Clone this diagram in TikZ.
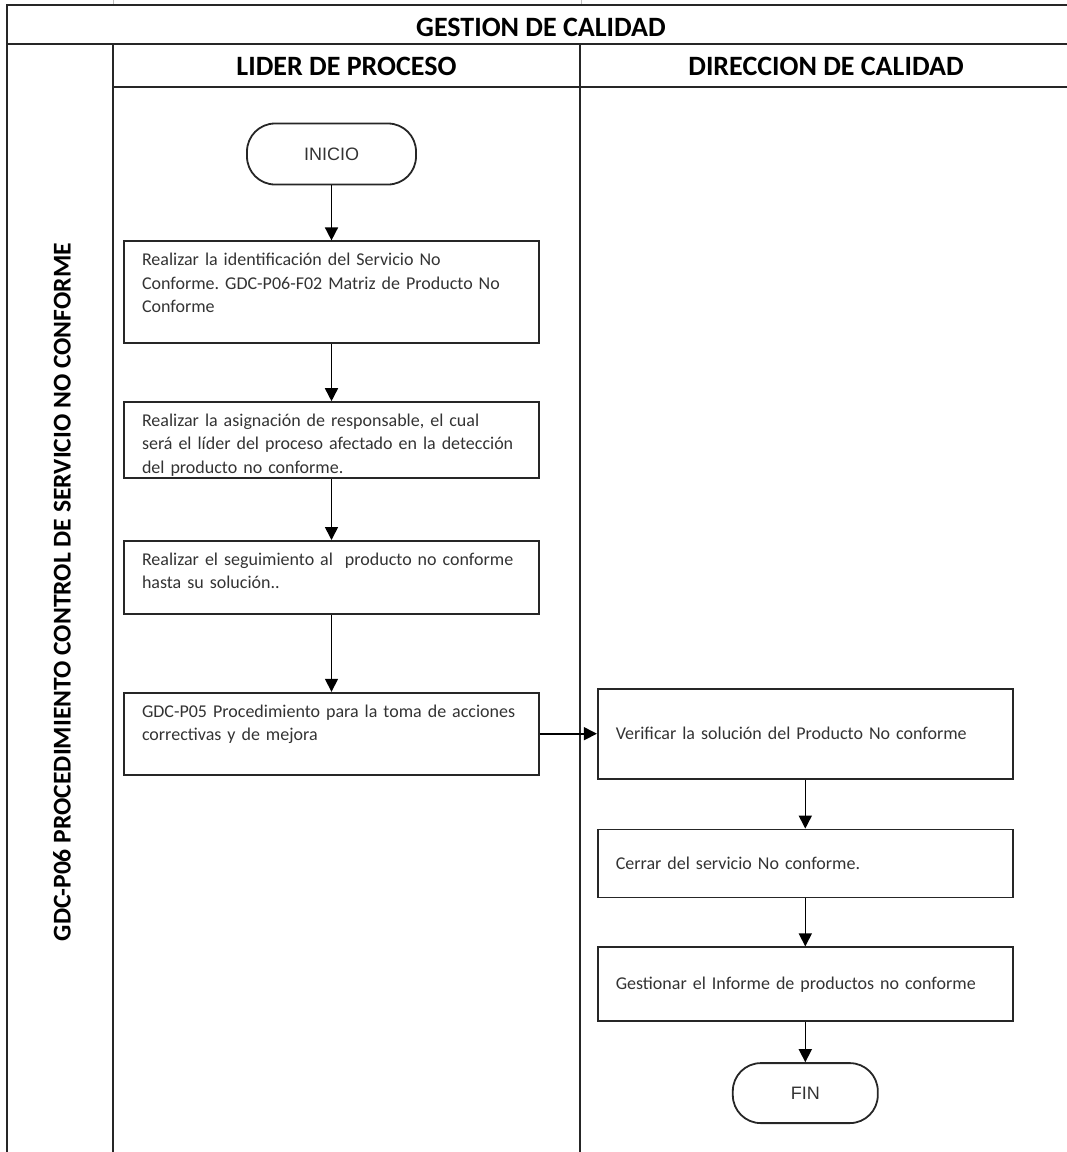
\documentclass[tikz,border=0pt]{standalone}
\usepackage{fontspec}
\setmainfont{Carlito}
\newfontfamily\termfont{Liberation Sans}
\usetikzlibrary{arrows.meta}
\usetikzlibrary{positioning}

\newcommand{\toptext}[2]{\parbox[c][#1][t]{\linewidth}{\frenchspacing #2}}

\begin{document}
\begin{tikzpicture}[x=1pt, y=1pt, node distance=55pt,
                    frame/.style = {draw=black!85, line width=2pt},
                    lane title/.style = {font=\fontsize{28}{32}\selectfont\bfseries},
                    stepbox/.style = {rectangle, draw=black!85, line width=1.8pt,
                                      minimum width=415pt, text width=379pt,
                                      inner xsep=18pt, inner ysep=12pt, align=left,
                                      text=black!80, font=\fontsize{18}{23.3}\selectfont},
                    terminal/.style = {rectangle, rounded corners=28pt, draw=black!85,
                                       line width=1.8pt, text=black!80,
                                       font=\termfont\fontsize{18}{22}\selectfont},
                    flow/.style = {-{Triangle[width=13pt,length=13pt]}, line width=1.6pt}]
  \useasboundingbox (0,0) rectangle (1067,-1152);

  % table frame
  \draw [black!25, line width=1pt] (113,0) -- (113,-5);
  \draw [black!25, line width=1pt] (581,0) -- (581,-5);
  \draw [frame] (7,-1152) -- (7,-5) -- (1067,-5);
  \draw [frame] (7,-44) -- (1067,-44);
  \draw [frame] (113,-87) -- (1067,-87);
  \draw [frame] (113,-44) -- (113,-1152);
  \draw [frame] (580,-44) -- (580,-1152);

  \node [lane title] (gestion) at (541,-27) {GESTION DE CALIDAD};
  \node [lane title] (lider) at (346.5,-66) {LIDER DE PROCESO};
  \node [lane title] (direccion) at (826,-66) {DIRECCION DE CALIDAD};
  \node [lane title, font=\fontsize{25.6}{30}\selectfont\bfseries, rotate=90] (procedimiento)
    at (62,-592) {GDC-P06 PROCEDIMIENTO CONTROL DE SERVICIO NO CONFORME};

  % lider de proceso
  \node [terminal, minimum width=169pt, minimum height=61pt] (inicio) at (331.5,-154) {INICIO};
  \node [stepbox, below=55pt of inicio] (identificar)
    {\toptext{78pt}{Realizar la identificación del Servicio No\\
                    Conforme. GDC-P06-F02 Matriz de Producto No\\
                    Conforme}};
  \node [stepbox, below=57pt of identificar] (asignar)
    {\toptext{52pt}{Realizar la asignación de responsable, el cual\\
                    será el líder del proceso afectado en la detección\\
                    del producto no conforme.}};
  \node [stepbox, below=61pt of asignar] (seguimiento)
    {\toptext{49pt}{Realizar el seguimiento al\ \ producto no conforme\\
                    hasta su solución..}};
  \node [stepbox, below=77pt of seguimiento] (acciones)
    {\toptext{58pt}{GDC-P05 Procedimiento para la toma de acciones\\
                    correctivas y de mejora}};

  % direccion de calidad
  \node [stepbox, minimum height=90pt, right=57pt of acciones] (verificar)
    {Verificar la solución del Producto No conforme};
  \node [stepbox, minimum height=68pt, below=49pt of verificar] (cerrar)
    {Cerrar del servicio No conforme.};
  \node [stepbox, minimum height=74pt, below=48pt of cerrar] (informe)
    {Gestionar el Informe de productos no conforme};
  \node [terminal, minimum width=145pt, minimum height=60pt, below=40pt of informe] (fin) {FIN};

  \draw [flow] (inicio) -- (identificar);
  \draw [flow] (identificar) -- (asignar);
  \draw [flow] (asignar) -- (seguimiento);
  \draw [flow] (seguimiento) -- (acciones);
  \draw [flow] (acciones) -- (verificar);
  \draw [flow] (verificar) -- (cerrar);
  \draw [flow] (cerrar) -- (informe);
  \draw [flow] (informe) -- (fin);
\end{tikzpicture}
\end{document}
